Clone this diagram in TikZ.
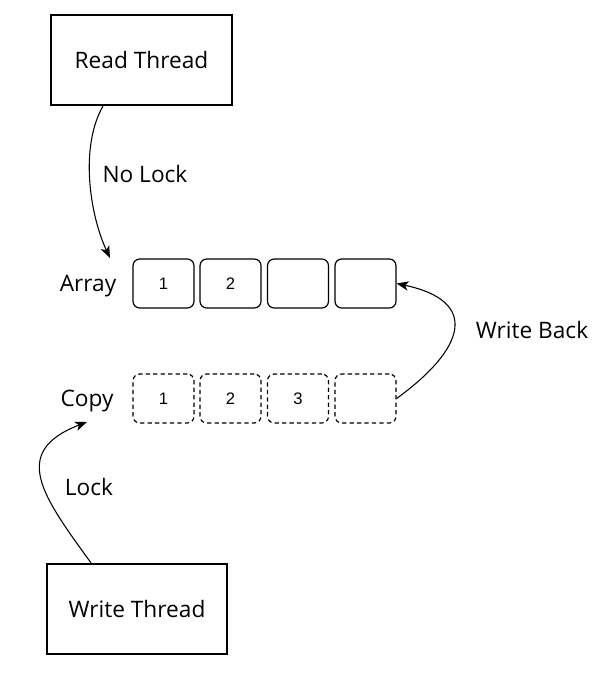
\documentclass[tikz,border=0pt]{standalone}
\usepackage{fontspec}
\setmainfont{Open Sans}
\newfontfamily\cellfont{Liberation Sans}
\usetikzlibrary{arrows,arrows.meta}

\begin{document}
\begin{tikzpicture}[->,>={Stealth[length=9pt,width=7pt,inset=2.5pt]},x=0.75pt,y=-0.75pt,
  thread/.style={rectangle, draw, line width=0.9pt,
                 minimum width=135pt, minimum height=67.5pt},
  cell/.style={rectangle, draw, rounded corners=5pt, line width=0.9pt,
               minimum width=45.75pt, minimum height=36.75pt},
  copycell/.style={cell, dash pattern=on 3.2pt off 2.4pt},
  txt/.style={font=\fontsize{17}{20}\selectfont},
  num/.style={font=\cellfont\fontsize{12.5}{15}\selectfont}]

  \useasboundingbox (0,0) rectangle (615,678);

  \node[thread,
        minimum width = 135.75pt
        ] (read) at (141.5,60) {};
  \node[txt] (readt) at (read.center) {Read Thread};

  \node[thread
        ] (write) at (137,609) {};
  \node[txt] (writet) at (write.center) {Write Thread};

  % array row
  \node[txt] (arrlbl) at (88,286) {Array};
  \node[cell] (a1) at (163.5,283.5) {};
  \node[num] (a1t) at (a1.center) {1};
  \node[cell] (a2) at (230.5,283.5) {};
  \node[num] (a2t) at (a2.center) {2};
  \node[cell] (a3) at (298,283.5) {};
  \node[cell] (a4) at (365.5,283.5) {};

  % copy row
  \node[txt] (cpylbl) at (87,401) {Copy};
  \node[copycell] (c1) at (163.5,398.5) {};
  \node[num] (c1t) at (c1.center) {1};
  \node[copycell] (c2) at (230.5,398.5) {};
  \node[num] (c2t) at (c2.center) {2};
  \node[copycell] (c3) at (298,398.5) {};
  \node[num] (c3t) at (c3.center) {3};
  \node[copycell] (c4) at (365.5,398.5) {};

  \coordinate (nolock) at (110,258);
  \coordinate (lock) at (87,422);

  \node[txt] (nolocklbl) at (145,174) {No Lock};
  \node[txt] (locklbl) at (89,487) {Lock};
  \node[txt] (backlbl) at (532,330) {Write Back};

  \path[line width=0.8pt]
  %read path
  (read.230) edge [out=240, in=115, looseness=0.8] (nolock)
  %write path
  (write.135) edge [out=126, in=201, looseness=1.5] (lock)
  (c4.east) edge [out=36, in=-12, looseness=1.9] (a4.east) ;

\end{tikzpicture}
\end{document}
